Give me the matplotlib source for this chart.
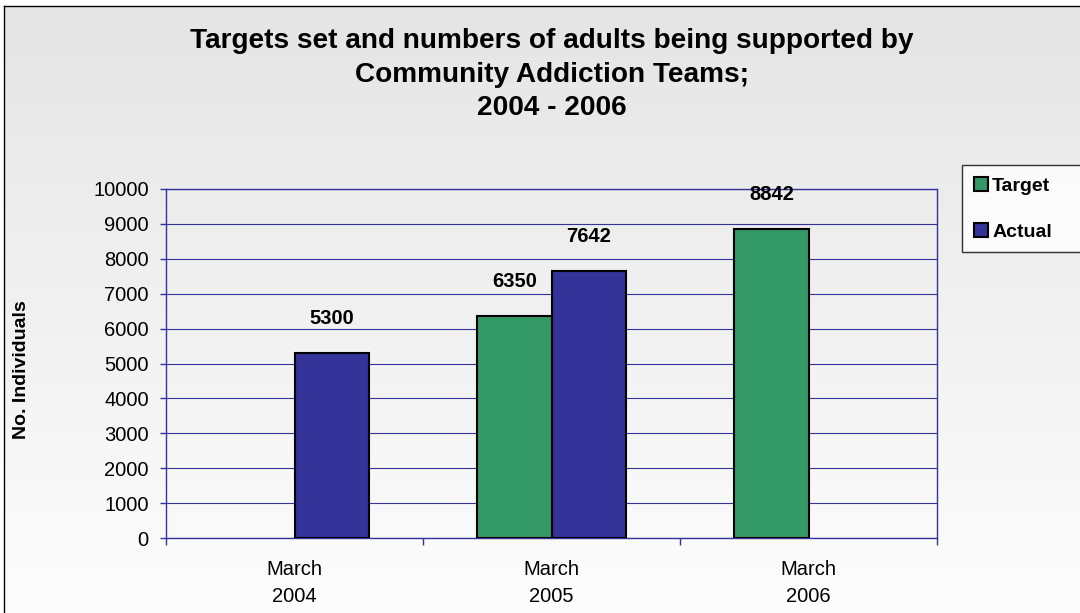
import matplotlib
matplotlib.use("Agg")
import matplotlib.pyplot as plt
import numpy as np

categories = ["March\n2004", "March\n2005", "March\n2006"]
target = [None, 6350, 8842]
actual = [5300, 7642, None]
yticks = [0, 1000, 2000, 3000, 4000, 5000, 6000, 7000, 8000, 9000, 10000]
title = "Targets set and numbers of adults being supported by\nCommunity Addiction Teams;\n2004 - 2006"
ylabel = "No. Individuals"
series_names = ["Target", "Actual"]

plt.rcParams['font.family'] = ['Liberation Sans', 'DejaVu Sans']

W, H = 1080, 613
fig = plt.figure(figsize=(W / 100, H / 100), dpi=100)
fig.patch.set_facecolor('white')

# gradient background inside the chart border
bg = fig.add_axes([4 / W, 0, 1 - 4 / W, 1 - 6 / H], zorder=-10)
grad = np.linspace(0, 1, 256).reshape(-1, 1)
top_c = np.array([0.898, 0.898, 0.898])
bot_c = np.array([0.992, 0.992, 0.992])
img = top_c[None, None, :] * (1 - grad[:, :, None]) + bot_c[None, None, :] * grad[:, :, None]
bg.imshow(img, aspect='auto', extent=[0, 1, 0, 1], origin='upper')
bg.set_xticks([])
bg.set_yticks([])
for s in ['right', 'bottom']:
    bg.spines[s].set_visible(False)
for s in ['left', 'top']:
    bg.spines[s].set_color('black')
    bg.spines[s].set_linewidth(1.0)

ax_l, ax_r, ax_t, ax_b = 166, 937, 189, 538
ax = fig.add_axes([ax_l / W, (H - ax_b) / H, (ax_r - ax_l) / W, (ax_b - ax_t) / H])
ax.patch.set_alpha(0)

navy = '#333399'
x = np.arange(len(categories))
w = 0.288

tx = [xi - w / 2 for xi, v in zip(x, target) if v is not None]
tv = [v for v in target if v is not None]
axx = [xi + w / 2 for xi, v in zip(x, actual) if v is not None]
av = [v for v in actual if v is not None]

b1 = ax.bar(tx, tv, width=w, color='#339966', edgecolor='black', linewidth=1.5, zorder=3, label=series_names[0])
b2 = ax.bar(axx, av, width=w, color='#333399', edgecolor='black', linewidth=1.5, zorder=3, label=series_names[1])
ax.bar_label(b1, labels=[str(v) for v in tv], padding=18, fontsize=14.5, fontweight='bold')
ax.bar_label(b2, labels=[str(v) for v in av], padding=18, fontsize=14.5, fontweight='bold')

ax.set_xlim(-0.5, len(categories) - 0.5)
ax.set_ylim(0, 10000)
ax.set_yticks(yticks)
ax.set_yticklabels([str(t) for t in yticks], fontsize=14.5)
ax.yaxis.grid(True, color=navy, linewidth=0.8, zorder=0)
ax.set_axisbelow(True)

ax.set_xticks(x)
ax.set_xticklabels(categories, fontsize=14.5, linespacing=1.55)
ax.set_xticks(np.arange(len(categories) + 1) - 0.5, minor=True)
ax.tick_params(axis='x', which='major', length=0, pad=16)
ax.tick_params(axis='x', which='minor', length=5, color=navy, width=1, direction='out')
ax.tick_params(axis='y', length=4.5, color=navy, width=1, direction='out', pad=8)

for s in ax.spines.values():
    s.set_color(navy)
    s.set_linewidth(1.0)

ax.set_ylabel(ylabel, fontsize=14, fontweight='bold')
ax.yaxis.set_label_coords((30 - ax_l) / (ax_r - ax_l), (ax_b - 370) / (ax_b - ax_t))

fig.text(552 / W, 1 - 28 / H, title, ha='center', va='top', fontsize=20.2, fontweight='bold', linespacing=1.38)

leg = fig.legend(handles=[b1, b2], loc='upper left',
                 bbox_to_anchor=(962 / W, (H - 249) / H, 0.2, 84 / H), mode='expand',
                 prop={'weight': 'bold', 'size': 14}, frameon=True, fancybox=False,
                 handlelength=0.75, handleheight=0.75, handletextpad=0.2,
                 labelspacing=1.45, borderpad=0.6, borderaxespad=0)
leg.get_frame().set_edgecolor('black')
leg.get_frame().set_linewidth(1.0)
leg.get_frame().set_facecolor('white')

fig.savefig('out.png', dpi=100)
